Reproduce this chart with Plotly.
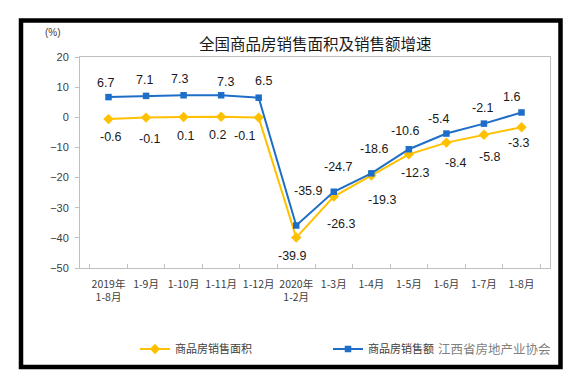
import plotly.graph_objects as go

# ---- data ----
categories = ["2019年<br>1-8月", "1-9月", "1-10月", "1-11月", "1-12月", "2020年<br>1-2月",
              "1-3月", "1-4月", "1-5月", "1-6月", "1-7月", "1-8月"]
area_growth = [-0.6, -0.1, 0.1, 0.2, -0.1, -39.9, -26.3, -19.3, -12.3, -8.4, -5.8, -3.3]
sales_growth = [6.7, 7.1, 7.3, 7.3, 6.5, -35.9, -24.7, -18.6, -10.6, -5.4, -2.1, 1.6]
series_names = ["商品房销售面积", "商品房销售额"]
y_ticks = [20, 10, 0, -10, -20, -30, -40, -50]
title_text = "全国商品房销售面积及销售额增速"
unit_text = "(%)"
watermark_text = "江西省房地产业协会"

# ---- label placement nudges (pixels, style only) ----
sales_label_dy = [14, 16, 16, 13, 17, 35, 25, 24, 18, 15, 16, 15]
sales_label_dx = [-3, -2, -4, 4, 5, 12, 5, 3, -3, -7, -1, -10]
area_label_dy = [-18, -21, -19, -18, -18, -18, -27, -25, -19, -20, -22, -16]
area_label_dx = [2, 4, 2, -4, -14, -4, 8, 11, 7, 10, 6, -3]

# ---- layout geometry ----
W, H = 581, 389
L, R, T, B = 80, 31, 57, 121
PW, PH = W - L - R, H - T - B


def xp(px):
    return (px - L) / PW


def yp(py):
    return (H - B - py) / PH


BLUE = "#1E6EC8"
YELLOW = "#FFC000"
CJK = "Noto Sans CJK SC"
NUM = "Liberation Sans, Arial"

fig = go.Figure()
fig.add_trace(go.Scatter(
    x=categories, y=area_growth, name=series_names[0], mode="lines+markers",
    line=dict(color=YELLOW, width=2),
    marker=dict(symbol="diamond", size=8, color=YELLOW),
))
fig.add_trace(go.Scatter(
    x=categories, y=sales_growth, name=series_names[1], mode="lines+markers",
    line=dict(color=BLUE, width=2),
    marker=dict(symbol="square", size=6.5, color=BLUE),
))

annotations = []
for c, v, dx, dy in zip(categories, sales_growth, sales_label_dx, sales_label_dy):
    annotations.append(dict(x=c, y=v, xref="x", yref="y", text=f"{v:.1f}", showarrow=False,
                            xshift=dx, yshift=dy,
                            font=dict(family=NUM, size=12.5, color="#1a1a1a")))
for c, v, dx, dy in zip(categories, area_growth, area_label_dx, area_label_dy):
    annotations.append(dict(x=c, y=v, xref="x", yref="y", text=f"{v:.1f}", showarrow=False,
                            xshift=dx, yshift=dy,
                            font=dict(family=NUM, size=12.5, color="#1a1a1a")))

annotations.append(dict(x=xp(315), y=yp(43), xref="paper", yref="paper", text=title_text,
                        showarrow=False, xanchor="center", yanchor="middle",
                        font=dict(family=CJK, size=15.5, color="#1a1a1a")))
annotations.append(dict(x=xp(53), y=yp(33), xref="paper", yref="paper", text=unit_text,
                        showarrow=False, xanchor="center", yanchor="middle",
                        font=dict(family=NUM, size=10, color="#404040")))
annotations.append(dict(x=xp(436), y=yp(348), xref="paper", yref="paper", text=watermark_text,
                        showarrow=False, xanchor="left", yanchor="middle",
                        font=dict(family=CJK, size=12.5, color="rgba(110,110,110,0.9)")))

fig.update_layout(
    width=W, height=H,
    margin=dict(l=L, r=R, t=T, b=B, autoexpand=False),
    paper_bgcolor="white", plot_bgcolor="white",
    showlegend=True,
    legend=dict(orientation="h", xref="container", yref="container",
                x=135 / W, y=(H - 349) / H, xanchor="left", yanchor="middle",
                entrywidth=148, entrywidthmode="pixels", itemwidth=30,
                font=dict(family=CJK, size=11, color="#404040"),
                bgcolor="rgba(0,0,0,0)", borderwidth=0),
    annotations=annotations,
    shapes=[dict(type="rect", xref="paper", yref="paper",
                 x0=xp(21), x1=xp(560.5), y0=yp(367), y1=yp(20.5),
                 line=dict(color="black", width=4.5), fillcolor="rgba(0,0,0,0)", layer="above")],
)

fig.update_xaxes(
    type="category", showline=True, linecolor="#BFBFBF", linewidth=1, mirror=True,
    ticks="inside", tickson="boundaries", ticklen=4, tickcolor="#BFBFBF",
    showgrid=False, ticklabelstandoff=6, tickangle=0, automargin=False,
    tickfont=dict(family=CJK, size=10.5, color="#404040"),
)
fig.update_yaxes(
    range=[-50, 20], tickvals=y_ticks, showline=True, linecolor="#BFBFBF", linewidth=1,
    mirror=True, ticks="outside", ticklen=4, tickcolor="#BFBFBF",
    showgrid=False, zeroline=False, ticklabelstandoff=4, automargin=False,
    tickfont=dict(family=NUM, size=11, color="#404040"),
)

fig.write_html("out.html", config={"displayModeBar": False},
               post_script="document.body.style.margin='0px';")
